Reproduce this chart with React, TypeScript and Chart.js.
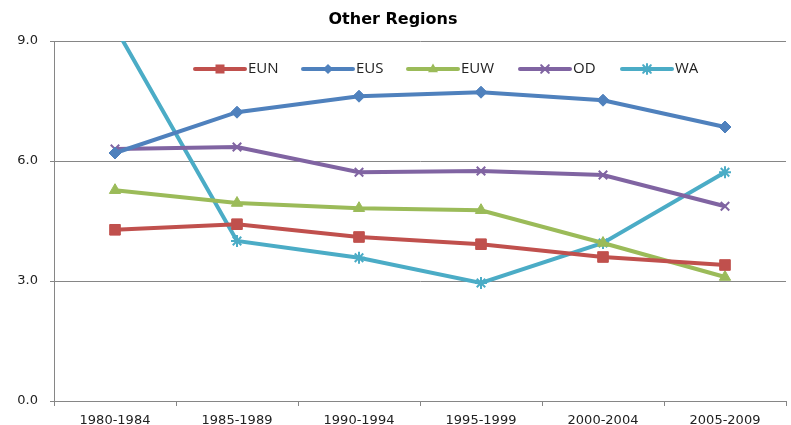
import React, { useEffect, useRef } from "react";
import { Chart, registerables } from "chart.js";

Chart.register(...registerables);

const categories = ["1980-1984", "1985-1989", "1990-1994", "1995-1999", "2000-2004", "2005-2009"];
const seriesNames = ["EUN", "EUS", "EUW", "OD", "WA"];
const eun = [4.28, 4.42, 4.1, 3.92, 3.6, 3.4];
const eus = [6.2, 7.22, 7.62, 7.72, 7.52, 6.85];
const euw = [5.27, 4.95, 4.82, 4.77, 3.95, 3.1];
const od = [6.3, 6.35, 5.72, 5.75, 5.65, 4.87];
const wa = [9.35, 4.0, 3.58, 2.95, 3.95, 5.72];
const yTicks = [0, 3, 6, 9];
const title = "Other Regions";

const colors = ["#C0504D", "#4F81BD", "#9BBB59", "#8064A2", "#4BACC6"];
const styles = ["rect", "rectRot", "triangle", "crossRot", "star"];
const radii = [7.5, 6, 6.5, 6, 6];
const legendX = [195, 303, 408, 520, 622];
const FONT = "'Open Sans', 'Liberation Sans', sans-serif";
const AXFONT = "'DejaVu Sans', sans-serif";

function drawPointSafe(ctx: CanvasRenderingContext2D, style: string, r: number, x: number, y: number, color: string) {
  ctx.fillStyle = color;
  ctx.strokeStyle = color;
  ctx.lineWidth = 2;
  ctx.beginPath();
  if (style === "rect") {
    const s = r * Math.SQRT1_2;
    ctx.rect(x - s, y - s, 2 * s, 2 * s);
    ctx.fill();
  } else if (style === "rectRot") {
    ctx.moveTo(x, y - r);
    ctx.lineTo(x + r, y);
    ctx.lineTo(x, y + r);
    ctx.lineTo(x - r, y);
    ctx.closePath();
    ctx.fill();
  } else if (style === "triangle") {
    ctx.moveTo(x, y - r);
    ctx.lineTo(x + r * 0.9, y + r * 0.6);
    ctx.lineTo(x - r * 0.9, y + r * 0.6);
    ctx.closePath();
    ctx.fill();
  } else if (style === "crossRot") {
    const s = r * 0.75;
    ctx.moveTo(x - s, y - s);
    ctx.lineTo(x + s, y + s);
    ctx.moveTo(x + s, y - s);
    ctx.lineTo(x - s, y + s);
    ctx.stroke();
  } else {
    const s = r * 0.75;
    ctx.moveTo(x - s, y - s);
    ctx.lineTo(x + s, y + s);
    ctx.moveTo(x + s, y - s);
    ctx.lineTo(x - s, y + s);
    ctx.moveTo(x, y - r);
    ctx.lineTo(x, y + r);
    ctx.stroke();
  }
}

const legendPlugin = {
  id: "customLegend",
  afterDraw(chart: any) {
    const ctx = chart.ctx;
    const y = 69;
    ctx.save();
    seriesNames.forEach((name, i) => {
      const x0 = legendX[i];
      const x1 = x0 + 50;
      ctx.strokeStyle = colors[i];
      ctx.lineWidth = 4;
      ctx.lineCap = "round";
      ctx.beginPath();
      ctx.moveTo(x0, y);
      ctx.lineTo(x1, y);
      ctx.stroke();
      drawPointSafe(ctx, styles[i], radii[i] * 0.85, (x0 + x1) / 2, y, colors[i]);
      ctx.fillStyle = "#222";
      ctx.font = `15px ${FONT}`;
      ctx.textBaseline = "middle";
      ctx.textAlign = "left";
      ctx.fillText(name, x1 + 3, y);
    });
    ctx.restore();
  },
};

export default function App() {
  const ref = useRef<HTMLCanvasElement>(null);
  useEffect(() => {
    const data = [eun, eus, euw, od, wa];
    const chart = new Chart(ref.current!, {
      type: "line",
      data: {
        labels: categories,
        datasets: seriesNames.map((name, i) => ({
          label: name,
          data: data[i],
          borderColor: colors[i],
          backgroundColor: colors[i],
          pointBackgroundColor: colors[i],
          pointBorderColor: colors[i],
          pointStyle: styles[i] as any,
          pointRadius: radii[i],
          pointBorderWidth: i >= 3 ? 2 : 1,
          borderWidth: 4,
          tension: 0,
          clip: { left: 6, right: 6, top: 0, bottom: 6 } as any,
        })),
      },
      options: {
        animation: false,
        responsive: false,
        maintainAspectRatio: false,
        layout: { autoPadding: false, padding: { left: 0, right: 5, top: 0, bottom: 0 } },
        plugins: {
          legend: { display: false },
          tooltip: { enabled: false },
          title: {
            display: true,
            text: title,
            color: "#000",
            font: { family: AXFONT, size: 16, weight: "bold", lineHeight: 1.2 },
            padding: { top: 10, bottom: 11.8 },
          },
        },
        scales: {
          x: {
            offset: true,
            grid: {
              offset: true,
              drawOnChartArea: false,
              drawTicks: true,
              tickLength: 5,
              color: "#868686",
            },
            border: { color: "#868686", width: 1 },
            ticks: { color: "#222", font: { family: AXFONT, size: 13 }, padding: 7, maxRotation: 0, autoSkip: false },
            afterFit: (s: any) => {
              s.height = 24;
              s.paddingLeft = 0;
              s.paddingRight = 0;
            },
          },
          y: {
            min: 0,
            max: 9,
            afterBuildTicks: (s: any) => {
              s.ticks = yTicks.map((v) => ({ value: v }));
            },
            grid: { color: "#868686", tickLength: 4, drawTicks: true },
            border: { color: "#868686", width: 1 },
            ticks: {
              color: "#222",
              font: { family: AXFONT, size: 13 },
              padding: 12,
              callback: (v: any) => Number(v).toFixed(1),
            },
            afterFit: (s: any) => {
              s.width = 54;
            },
          },
        },
      },
      plugins: [legendPlugin],
    });
    return () => chart.destroy();
  }, []);
  return (
    <div style={{ position: "fixed", left: 0, top: 0, width: 791, height: 425, background: "#fff" }}>
      <canvas ref={ref} width={791} height={425} style={{ width: 791, height: 425 }} />
    </div>
  );
}
